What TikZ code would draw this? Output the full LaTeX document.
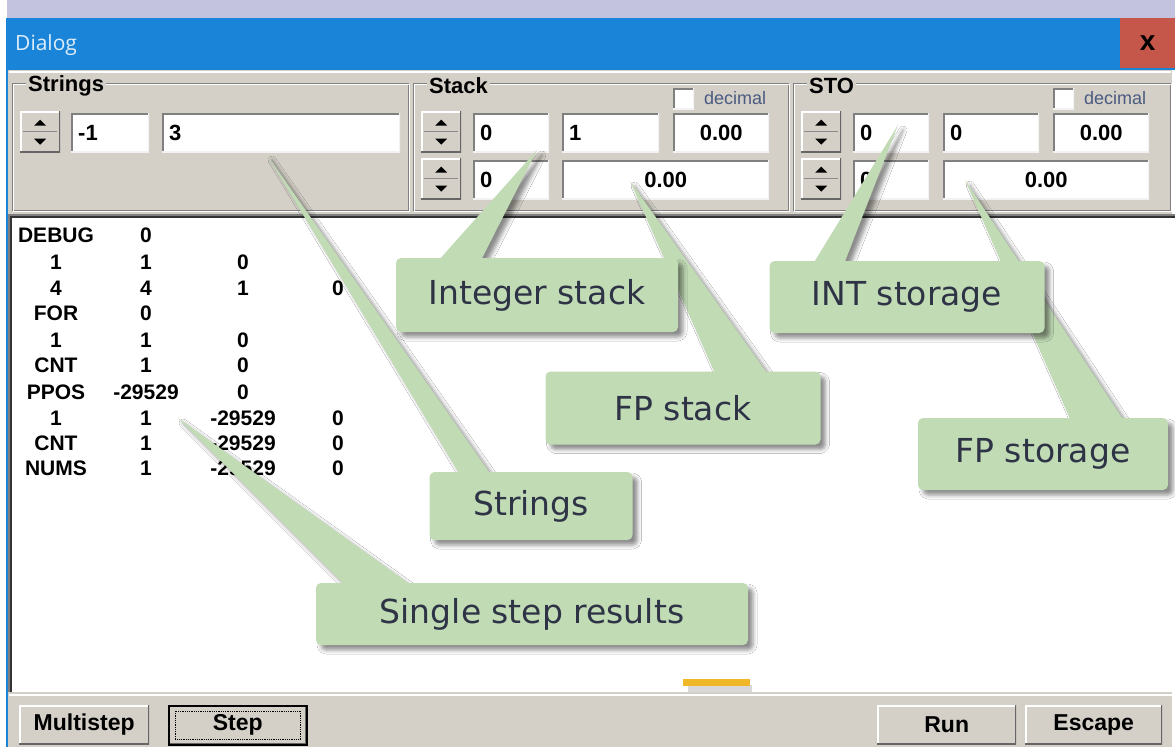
\documentclass[tikz,border=0pt]{standalone}
\usepackage{fontspec}
\setmainfont{Liberation Sans}
\newfontfamily\callfont{DejaVu Sans}
\newfontfamily\capfont{Open Sans}
\usetikzlibrary{shadows.blur}
\definecolor{winbg}{HTML}{D4D0C8}
\definecolor{titleblue}{HTML}{1A84D8}
\definecolor{topband}{HTML}{C3C3DF}
\definecolor{closered}{HTML}{C4564A}
\definecolor{callgreen}{HTML}{C1DBB5}
\definecolor{calltext}{HTML}{2E3346}
\definecolor{edgedark}{HTML}{808080}
\definecolor{decblue}{HTML}{4A5A80}
\definecolor{barorange}{HTML}{F0B828}
\newcommand\sunkenedge{%
 \draw[edgedark,line width=4pt](path picture bounding box.south west)--(path picture bounding box.north west)--(path picture bounding box.north east);
 \draw[black!5,line width=3pt](path picture bounding box.south west)--(path picture bounding box.south east)--(path picture bounding box.north east);}
\newcommand\raisededge{%
 \draw[white,line width=3pt](path picture bounding box.south west)--(path picture bounding box.north west)--(path picture bounding box.north east);
 \draw[black!60,line width=3pt](path picture bounding box.south west)--(path picture bounding box.south east)--(path picture bounding box.north east);}
\tikzset{ui/.style={font=\bfseries\fontsize{22}{26}\selectfont,inner sep=0pt},
 fld/.style={ui,fill=white,anchor=north west,minimum height=39pt,inner xsep=7pt,text width=#1pt,align=left,path picture={\sunkenedge}},
 fldc/.style={fld=#1,align=center},
 chk/.style={fill=white,anchor=north west,minimum size=21pt,inner sep=0pt,path picture={\sunkenedge}},
 dec/.style={font=\fontsize{18}{20}\selectfont,text=decblue,inner sep=0pt,anchor=west},
 spin/.style={fill=winbg,anchor=north west,minimum width=40pt,minimum height=41pt,inner sep=0pt,path picture={\raisededge
   \draw[black!45,line width=1.5pt]([xshift=-17pt]path picture bounding box.center)--([xshift=17pt]path picture bounding box.center);
   \fill[black]([shift={(-6,-6)}]path picture bounding box.center)--([shift={(6,-6)}]path picture bounding box.center)--([shift={(0,-12)}]path picture bounding box.center)--cycle;
   \fill[black]([shift={(-6,7)}]path picture bounding box.center)--([shift={(6,7)}]path picture bounding box.center)--([shift={(0,13)}]path picture bounding box.center)--cycle;}},
 btn/.style={ui,fill=winbg,anchor=north west,minimum width=#1pt,minimum height=39pt,font=\bfseries\fontsize{23}{26}\selectfont,path picture={\raisededge}},
 lst/.style={font=\bfseries\fontsize{21}{24}\selectfont,inner sep=0pt},
 call/.style={fill=callgreen,rounded corners=5pt,text=calltext,font=\callfont\fontsize{33}{40}\selectfont,inner sep=0pt,
   blur shadow={shadow xshift=5pt,shadow yshift=-5pt,shadow blur radius=4pt,shadow opacity=45}},
 ptr/.style={fill=callgreen,blur shadow={shadow xshift=5pt,shadow yshift=-5pt,shadow blur radius=4pt,shadow opacity=45}}}

\begin{document}
\begin{tikzpicture}[x=1pt,y=-1pt]
\useasboundingbox (0,0) rectangle (1175,747);
% window frame
\fill[white] (0,0) rectangle (1175,747);
\fill[topband] (7,0) rectangle (1175,18);
\fill[titleblue] (6,18) rectangle (1175,70);
\fill[titleblue] (6,70) rectangle (8,747);
\fill[winbg] (8,70) rectangle (1172,747);
\draw[white,line width=1.5pt] (9,72) -- (1171,72);
\node[font=\capfont\fontsize{21}{24}\selectfont,text=white!85!titleblue,anchor=west,inner sep=0pt] (ttl) at (15,45) {Dialog};
\node[fill=closered,anchor=north west,minimum width=55pt,minimum height=50pt,inner sep=0pt,font=\bfseries\fontsize{28}{30}\selectfont] (xbtn) at (1120,18) {x};
% group boxes
\foreach \a/\b/\t/\n in {12/408/Strings/gStr,413/788/Stack/gStk,793/1170/STO/gSto}{
  \draw[edgedark] (\a,83) rectangle (\b,210);
  \draw[white] (\a+1,84) rectangle (\b+1,211);
  \node[ui,fill=winbg,inner xsep=2pt,anchor=west] (\n) at (\a+14,86) {\t};}
\foreach \x/\y/\n in {20/111/sp1,421/111/sp2,421/158/sp3,801/111/sp4,801/158/sp5}
  \node[spin] (\n) at (\x,\y) {};
\node[fld=64] (fStrIdx) at (71,113) {-1};
\node[fld=224] (fStrVal) at (162,113) {3};
\node[fld=62] (fStkI1) at (473,113) {0};
\node[fld=83] (fStkI2) at (562,113) {1};
\node[fldc=82] (fStkF1) at (673,113) {0.00};
\node[fld=62] (fStkI3) at (473,160) {0};
\node[fldc=193] (fStkF2) at (562,160) {0.00};
\node[fld=62] (fStoI1) at (853,113) {0};
\node[fld=82] (fStoI2) at (943,113) {0};
\node[fldc=82] (fStoF1) at (1053,113) {0.00};
\node[fld=62] (fStoI3) at (853,160) {0};
\node[fldc=192] (fStoF2) at (943,160) {0.00};
\node[chk] (kStk) at (673,88) {};
\node[dec] (dStk) at (704,98) {decimal};
\node[chk] (kSto) at (1053,88) {};
\node[dec] (dSto) at (1084,98) {decimal};
% result list
\fill[white] (10,216) rectangle (1175,692);
\draw[edgedark,line width=1.5pt] (9,692) -- (9,215) -- (1175,215);
\draw[black!80,line width=1.5pt] (11,692) -- (11,217) -- (1175,217);
\draw[white,line width=2pt] (9,695) -- (1172,695);
\foreach \y/\a/\b/\c/\d in {235/DEBUG/0//,262/1/1/0/,288/4/4/1/0,313/FOR/0//,340/1/1/0/,365/CNT/1/0/,392/PPOS/-29529/0/,418/1/1/-29529/0,443/CNT/1/-29529/0,468/NUMS/1/-29529/0}{
  \node[lst] (a\y) at (56,\y) {\a};
  \node[lst] (b\y) at (146,\y) {\b};
  \node[lst] (c\y) at (243,\y) {\c};
  \node[lst] (d\y) at (338,\y) {\d};}
\fill[black,opacity=.15] (688,685) rectangle (752,692);
\fill[barorange] (683,679) rectangle (750,686);
% buttons
\node[btn=130] (bMulti) at (19,705) {Multistep};
\node[btn=138,draw=black,line width=1.5pt] (bStep) at (168,705) {Step};
\draw[densely dotted,thick] ([shift={(7,6)}]bStep.north west) rectangle ([shift={(-7,-6)}]bStep.south east);
\node[btn=139] (bRun) at (877,705) {Run};
\node[btn=137] (bEsc) at (1025,705) {Escape};
% callouts
\coordinate (tStr) at (267,155);
\coordinate (tFPStk) at (630,181);
\coordinate (tIntStk) at (537,150);
\coordinate (tFPSto) at (965,180);
\coordinate (tIntSto) at (898,125);
\coordinate (tStep) at (178,418);
\foreach \n/\x/\y/\w/\h/\p/\q/\t in {Str/531/506/203/68/36/68/Strings,FPStk/683/408/275/73/174/229/FP stack,
  IntStk/537/295/282/74/34/80/Integer stack,FPSto/1043/454/250/72/157/212/FP storage,
  IntSto/907/297/275/72/38/71/INT storage,Step/532/614/432/62/39/109/Single step results}{
  \coordinate (m\n) at (\x,\y);
  \fill[ptr] (t\n) -- ([shift={(\p-\w/2,12-\h/2)}]m\n) -- ([shift={(\q-\w/2,12-\h/2)}]m\n) -- cycle;
  \node[call,minimum width=\w pt,minimum height=\h pt] (c\n) at (m\n) {\t};}
\end{tikzpicture}
\end{document}
